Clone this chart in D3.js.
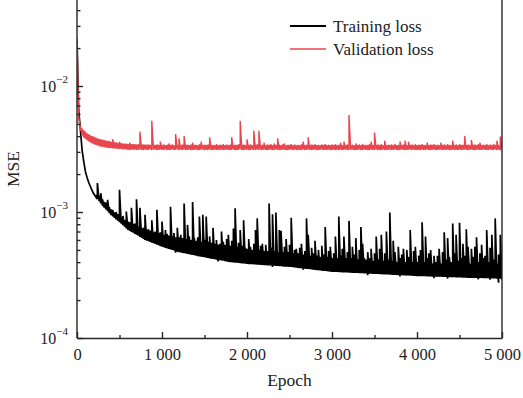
<!DOCTYPE html>
<html>
<head>
<meta charset="utf-8">
<script src="https://cdn.jsdelivr.net/npm/d3@7"></script>
<style>
  body { margin: 0; background: #fff; }
  svg { display: block; font-family: "Liberation Serif", "Times New Roman", serif; }
</style>
</head>
<body>
<div id="chart"></div>
<script>
// one bin every 20 epochs (0 .. 5000), values in units of 1e-4
// low = bottom of the noisy band in that bin, high = highest value in that bin
const STEP = 20;
const UNIT = 1e-4;

const trainLow = [
  232, 64.5, 44.8, 31, 25, 20.8, 18.6, 17, 15.8, 14.7,
  13.7, 13.2, 12.7, 12.2, 11.7, 11.2, 10.85, 10.5, 10.15, 9.8,
  9.47, 9.23, 9.0, 8.76, 8.53, 8.3, 8.08, 7.86, 7.64, 7.42,
  7.2, 7.08, 6.96, 6.84, 6.72, 6.6, 6.48, 6.36, 6.24, 6.12,
  6.0, 5.93, 5.86, 5.79, 5.72, 5.65, 5.58, 5.51, 5.44, 5.37,
  5.3, 5.25, 5.2, 5.15, 5.1, 5.05, 5.0, 4.95, 4.75, 4.85,
  4.8, 4.77, 4.74, 4.71, 4.68, 4.65, 4.62, 4.59, 4.56, 4.53,
  4.5, 4.47, 4.45, 4.42, 4.4, 4.37, 4.34, 4.32, 4.29, 4.27,
  4.24, 4.22, 4.19, 4.05, 4.14, 4.12, 4.1, 4.07, 4.05, 4.02,
  4.0, 3.99, 3.97, 3.96, 3.95, 3.94, 3.92, 3.91, 3.9, 3.88,
  3.87, 3.86, 3.85, 3.85, 3.84, 3.83, 3.82, 3.81, 3.81, 3.8,
  3.79, 3.78, 3.77, 3.77, 3.76, 3.66, 3.74, 3.73, 3.73, 3.72,
  3.71, 3.7, 3.69, 3.69, 3.68, 3.67, 3.66, 3.64, 3.63, 3.62,
  3.6, 3.59, 3.58, 3.48, 3.55, 3.54, 3.53, 3.51, 3.5, 3.49,
  3.47, 3.46, 3.45, 3.44, 3.42, 3.41, 3.4, 3.39, 3.37, 3.36,
  3.35, 3.35, 3.34, 3.34, 3.33, 3.33, 3.32, 3.32, 3.31, 3.31,
  3.3, 3.3, 3.29, 3.29, 3.28, 3.28, 3.27, 3.27, 3.26, 3.26,
  3.25, 3.15, 3.24, 3.24, 3.23, 3.23, 3.22, 3.22, 3.21, 3.21,
  3.2, 3.2, 3.19, 3.19, 3.18, 3.18, 3.17, 3.17, 3.16, 3.16,
  3.08, 3.15, 3.14, 3.14, 3.13, 3.13, 3.12, 3.12, 3.11, 3.11,
  3.1, 3.1, 3.1, 3.09, 3.09, 3.09, 3.08, 3.08, 3.08, 3.07,
  2.98, 3.07, 3.06, 3.06, 3.06, 3.05, 3.05, 3.05, 2.96, 3.04,
  3.04, 3.03, 3.03, 3.03, 3.02, 3.02, 3.02, 3.01, 3.01, 3.01,
  3.0, 3.0, 3.0, 3.0, 3.0, 2.99, 2.92, 2.99, 2.99, 2.98,
  2.98, 2.98, 2.98, 2.9, 2.97, 2.97, 2.97, 2.96, 2.75, 2.96, 2.9
];

const trainHigh = [
  232, 64.5, 44.8, 31, 25, 20.8, 18.6, 17, 15.8, 14.7,
  13.9, 13.6, 17.0, 13.5, 14.1, 12.6, 12.0, 11.9, 12.5, 10.9,
  10.5, 10.4, 9.9, 10.0, 9.6, 15.0, 9.1, 9.3, 8.6, 10.1,
  8.4, 8.3, 10.8, 8.0, 8.1, 12.6, 7.6, 10.8, 7.4, 7.5,
  9.5, 7.2, 7.3, 7.1, 8.6, 6.9, 7.0, 10.4, 6.8, 6.9,
  8.4, 6.6, 7.2, 6.7, 6.5, 11.0, 6.4, 6.8, 6.3, 7.5,
  6.3, 6.6, 6.2, 11.7, 6.1, 7.9, 6.4, 6.0, 12.0, 6.2,
  5.9, 6.3, 9.2, 5.8, 9.5, 6.0, 9.2, 5.8, 6.4, 5.7,
  7.5, 5.6, 6.0, 5.5, 5.6, 7.0, 5.8, 5.5, 6.1, 6.6,
  5.4, 5.9, 7.4, 10.7, 5.3, 5.7, 7.2, 5.4, 8.6, 5.2,
  5.1, 6.1, 5.3, 5.0, 5.6, 7.2, 8.9, 5.0, 5.4, 5.6,
  4.9, 5.5, 4.9, 11.7, 5.2, 9.6, 4.9, 9.9, 4.8, 7.2,
  7.1, 4.8, 5.3, 6.1, 4.8, 5.5, 9.0, 4.7, 5.0, 5.1,
  4.7, 5.2, 5.6, 4.6, 4.9, 8.9, 6.6, 4.5, 5.2, 4.7,
  5.9, 4.5, 5.0, 4.4, 5.4, 4.6, 7.6, 4.4, 4.9, 5.3,
  4.3, 4.7, 6.4, 4.3, 9.2, 4.5, 5.1, 6.4, 4.3, 4.8,
  8.5, 4.3, 5.3, 4.6, 6.2, 4.2, 5.0, 7.6, 5.6, 4.3,
  4.2, 4.8, 4.3, 5.1, 4.1, 4.7, 6.4, 4.2, 5.1, 6.6,
  4.1, 4.7, 7.0, 4.2, 9.9, 4.1, 5.9, 4.8, 4.0, 5.3,
  4.3, 4.6, 5.1, 4.0, 5.0, 4.4, 7.2, 4.0, 4.9, 5.3,
  4.0, 4.5, 5.0, 8.3, 4.0, 6.4, 4.3, 4.7, 5.0, 3.9,
  4.5, 4.0, 4.5, 5.1, 3.9, 4.8, 6.9, 4.2, 6.2, 4.4,
  4.0, 8.1, 4.7, 6.6, 4.1, 8.2, 4.3, 5.6, 4.5, 7.3,
  5.3, 3.9, 5.1, 4.4, 5.3, 6.3, 4.0, 4.7, 5.5, 4.3,
  4.5, 7.2, 4.0, 5.2, 6.6, 4.2, 8.9, 3.9, 4.6, 6.6, 4.3
];

const validLow = [
  245, 54, 44, 40.5, 39, 38, 37, 36.3, 35.6, 35.0,
  34.5, 34.1, 33.7, 33.4, 33.1, 32.9, 32.7, 32.5, 32.3, 32.2,
  32.1, 32.0, 31.9, 31.8, 31.7, 31.6, 31.6, 31.5, 31.5, 31.4,
  31.2, 31.0, 31.3, 31.1, 31.4, 31.0, 31.2, 31.3, 31.1, 31.0,
  31.3, 31.1, 31.2, 31.4, 31.0, 31.2, 31.3, 31.0, 31.1, 31.3,
  31.2, 31.0, 31.4, 31.1, 31.2, 31.0, 31.3, 31.1, 31.2, 31.4,
  31.0, 31.2, 31.1, 31.3, 31.0, 31.2, 31.4, 31.1, 31.0, 31.2,
  31.3, 31.0, 31.1, 31.2, 31.4, 31.0, 31.2, 31.1, 31.3, 31.0,
  31.1, 31.3, 31.0, 31.2, 31.1, 31.4, 31.0, 31.2, 31.3, 31.1,
  31.0, 31.2, 31.3, 31.0, 31.1, 31.2, 31.4, 31.0, 31.1, 31.3,
  31.2, 31.0, 31.1, 31.3, 31.2, 31.0, 31.4, 31.1, 31.2, 31.0,
  31.3, 31.1, 31.0, 31.2, 31.3, 31.0, 31.1, 31.4, 31.2, 31.0,
  31.1, 31.3, 31.2, 31.0, 31.1, 31.2, 31.4, 31.0, 31.3, 31.1,
  31.0, 31.2, 31.1, 31.3, 31.0, 31.2, 31.4, 31.1, 31.0, 31.2,
  31.3, 31.0, 31.1, 31.2, 31.4, 31.0, 31.2, 31.1, 31.3, 31.0,
  31.1, 31.3, 31.0, 31.2, 31.1, 31.4, 31.0, 31.2, 31.3, 31.1,
  31.0, 31.2, 31.3, 31.0, 31.1, 31.2, 31.4, 31.0, 31.1, 31.3,
  31.2, 31.0, 31.1, 31.3, 31.2, 31.0, 31.4, 31.1, 31.2, 31.0,
  31.3, 31.1, 31.0, 31.2, 31.3, 31.0, 31.1, 31.4, 31.2, 31.0,
  31.1, 31.3, 31.2, 31.0, 31.1, 31.2, 31.4, 31.0, 31.3, 31.1,
  31.0, 31.2, 31.1, 31.3, 31.0, 31.2, 31.4, 31.1, 31.0, 31.2,
  31.3, 31.0, 31.1, 31.2, 31.4, 31.0, 31.2, 31.1, 31.3, 31.0,
  31.1, 31.3, 31.0, 31.2, 31.1, 31.4, 31.0, 31.2, 31.3, 31.1,
  31.0, 31.2, 31.3, 31.0, 31.1, 31.2, 31.4, 31.0, 31.1, 31.3,
  31.2, 31.0, 31.1, 31.3, 31.2, 31.0, 31.4, 31.1, 31.2, 31.0, 31.3
];

const validHigh = [
  245, 58, 49, 46, 44.5, 43.5, 42, 41.5, 40.5, 40.0,
  39.5, 39.0, 38.5, 38.0, 37.8, 37.5, 37.2, 36.9, 36.8, 36.5,
  36.2, 37.8, 35.8, 35.6, 35.4, 36.1, 35.2, 35.0, 34.9, 34.8,
  34.7, 35.5, 34.6, 34.5, 34.6, 34.4, 34.5, 43.4, 34.3, 34.4,
  34.3, 34.2, 34.4, 34.1, 53.0, 34.2, 34.0, 34.3, 34.1, 36.1,
  34.0, 34.4, 33.9, 34.2, 35.0, 34.0, 34.3, 33.9, 41.6, 34.1,
  38.5, 33.9, 34.3, 40.1, 34.0, 34.2, 33.8, 34.4, 35.5, 34.0,
  34.2, 33.8, 34.5, 36.1, 33.9, 34.2, 34.0, 34.4, 39.2, 33.8,
  34.1, 33.9, 34.6, 33.8, 34.2, 34.0, 34.5, 33.9, 34.3, 33.8,
  34.4, 39.2, 33.9, 34.2, 34.0, 34.5, 53.0, 33.8, 34.3, 33.9,
  37.8, 34.0, 34.3, 33.8, 44.1, 34.1, 34.5, 44.1, 33.9, 34.2,
  35.5, 33.8, 34.4, 34.0, 34.6, 33.9, 35.0, 34.1, 38.5, 34.2,
  33.9, 34.5, 35.0, 33.8, 34.2, 34.0, 34.6, 33.9, 34.3, 33.8,
  34.1, 33.9, 34.5, 36.1, 33.8, 34.2, 39.2, 33.9, 34.4, 34.0,
  34.5, 33.8, 34.1, 33.9, 34.4, 34.0, 34.6, 33.8, 34.2, 33.9,
  34.3, 34.0, 34.5, 33.8, 34.2, 35.5, 33.9, 36.1, 34.0, 34.3,
  58.9, 33.9, 34.2, 33.8, 35.0, 34.0, 34.4, 33.9, 34.6, 33.8,
  34.1, 34.0, 34.5, 36.1, 33.9, 42.7, 33.8, 34.3, 34.0, 34.5,
  33.9, 36.8, 33.8, 34.2, 34.0, 34.4, 33.9, 34.6, 33.8, 34.1,
  36.1, 33.9, 34.3, 36.8, 33.8, 36.1, 34.0, 34.4, 33.9, 34.5,
  33.8, 34.2, 34.0, 34.6, 33.9, 34.1, 35.5, 33.8, 34.3, 34.0,
  34.5, 33.9, 34.2, 33.8, 35.5, 34.0, 34.4, 33.9, 34.6, 33.8,
  34.1, 36.8, 33.9, 34.3, 33.8, 34.5, 34.0, 34.2, 40.1, 33.9,
  34.4, 33.8, 37.2, 34.0, 34.3, 33.9, 34.6, 35.5, 33.8, 34.2,
  34.0, 34.5, 33.9, 34.3, 33.8, 34.6, 34.0, 36.8, 33.9, 39.8, 34.2
];

const xTicks = [0, 1000, 2000, 3000, 4000, 5000];
const xMinorTicks = [500, 1500, 2500, 3500, 4500];
const yTicks = [1e-4, 1e-3, 1e-2];
const yExponents = ["\u22124", "\u22123", "\u22122"];
const yMinorTicks = [2, 3, 4, 5, 6, 7, 8, 9].flatMap((m) => [m * 1e-4, m * 1e-3, m * 1e-2]).filter((v) => v < 0.045);

const seriesNames = ["Training loss", "Validation loss"];
const seriesColors = ["#000000", "#e8464e"];

const WIDTH = 523, HEIGHT = 398;
const PLOT = { LEFT: 77, RIGHT: 502, BOTTOM: 338, TOP: 0 };

const svg = d3.select("#chart").append("svg")
  .attr("width", WIDTH)
  .attr("height", HEIGHT);

const x = d3.scaleLinear().domain([0, 5000]).range([PLOT.LEFT, PLOT.RIGHT]);
const y = d3.scaleLog().domain([1e-4, 1e-2]).range([PLOT.BOTTOM, 86]);

svg.append("clipPath").attr("id", "clip")
  .append("rect")
  .attr("x", PLOT.LEFT).attr("y", PLOT.TOP)
  .attr("width", PLOT.RIGHT - PLOT.LEFT).attr("height", PLOT.BOTTOM - PLOT.TOP);

// each bin contributes two points: its low and its high, so the line
// sweeps up and down inside the bin like the dense raw curve does
function binPoints(low, high) {
  const pts = [];
  low.forEach((v, i) => {
    pts.push([i * STEP, v * UNIT]);
    if (high[i] !== v) pts.push([i * STEP, high[i] * UNIT]);
  });
  return pts;
}

const line = d3.line()
  .x((d) => x(d[0]))
  .y((d) => y(d[1]));

const plot = svg.append("g").attr("clip-path", "url(#clip)");

plot.append("path")
  .datum(binPoints(trainLow, trainHigh))
  .attr("fill", "none")
  .attr("stroke", seriesColors[0])
  .attr("stroke-width", 1.7)
  .attr("d", line);

plot.append("path")
  .datum(binPoints(validLow, validHigh))
  .attr("fill", "none")
  .attr("stroke", seriesColors[1])
  .attr("stroke-width", 1.4)
  .attr("d", line);

// axes
const fmt = d3.formatLocale({ decimal: ".", thousands: " ", grouping: [3], currency: ["", ""] }).format(",");
const AXIS_COLOR = "#262626";

const xAxis = svg.append("g")
  .attr("transform", `translate(0, ${PLOT.BOTTOM})`)
  .call(d3.axisBottom(x).tickValues(xTicks).tickSizeInner(-6).tickSizeOuter(0).tickPadding(10).tickFormat(fmt));

svg.append("g")
  .attr("transform", `translate(0, ${PLOT.BOTTOM})`)
  .call(d3.axisBottom(x).tickValues(xMinorTicks).tickSizeInner(-3).tickSizeOuter(0).tickFormat(""))
  .call((g) => g.select(".domain").remove());

xAxis.selectAll("text").attr("font-size", 16.5).attr("fill", "#222").attr("font-family", "Liberation Serif");

const yAxis = svg.append("g")
  .attr("transform", `translate(${PLOT.LEFT}, 0)`)
  .call(d3.axisLeft(y).tickValues(yTicks).tickSizeInner(-6).tickSizeOuter(0).tickPadding(9).tickFormat(""));

yAxis.select(".domain").attr("d", `M0,${PLOT.BOTTOM}V${PLOT.TOP}`);

yAxis.selectAll(".tick text").each(function (d, i) {
  const t = d3.select(this)
    .attr("font-size", 16)
    .attr("fill", "#222")
    .attr("font-family", "Liberation Serif")
    .attr("dy", "0.32em");
  t.append("tspan").text("10");
  t.append("tspan").attr("font-size", 11).attr("dy", "-0.75em").text(yExponents[i]);
});

svg.append("g")
  .attr("transform", `translate(${PLOT.LEFT}, 0)`)
  .call(d3.axisLeft(y).tickValues(yMinorTicks).tickSizeInner(-3.5).tickSizeOuter(0).tickFormat(""))
  .call((g) => g.select(".domain").remove());

svg.selectAll(".domain, .tick line").attr("stroke", AXIS_COLOR).attr("stroke-width", 1.4);

// right frame line
svg.append("line")
  .attr("x1", PLOT.RIGHT).attr("x2", PLOT.RIGHT)
  .attr("y1", PLOT.TOP).attr("y2", PLOT.BOTTOM)
  .attr("stroke", AXIS_COLOR).attr("stroke-width", 1.4);

// axis titles
svg.append("text")
  .attr("x", (PLOT.LEFT + PLOT.RIGHT) / 2)
  .attr("y", 386)
  .attr("text-anchor", "middle")
  .attr("font-size", 17.5)
  .attr("fill", "#222")
  .text("Epoch");

svg.append("text")
  .attr("transform", `translate(19, 169) rotate(-90)`)
  .attr("text-anchor", "middle")
  .attr("font-size", 17.5)
  .attr("fill", "#222")
  .text("MSE");

// legend
const legend = svg.append("g").attr("transform", "translate(290, 26)");
seriesNames.forEach((name, i) => {
  const g = legend.append("g").attr("transform", `translate(0, ${i * 23})`);
  g.append("line")
    .attr("x1", 0).attr("x2", 36)
    .attr("stroke", seriesColors[i])
    .attr("stroke-width", i === 0 ? 2 : 1.5);
  g.append("text")
    .attr("x", 43)
    .attr("dy", "0.33em")
    .attr("font-size", 17)
    .attr("fill", "#222")
    .text(name);
});
</script>
</body>
</html>
